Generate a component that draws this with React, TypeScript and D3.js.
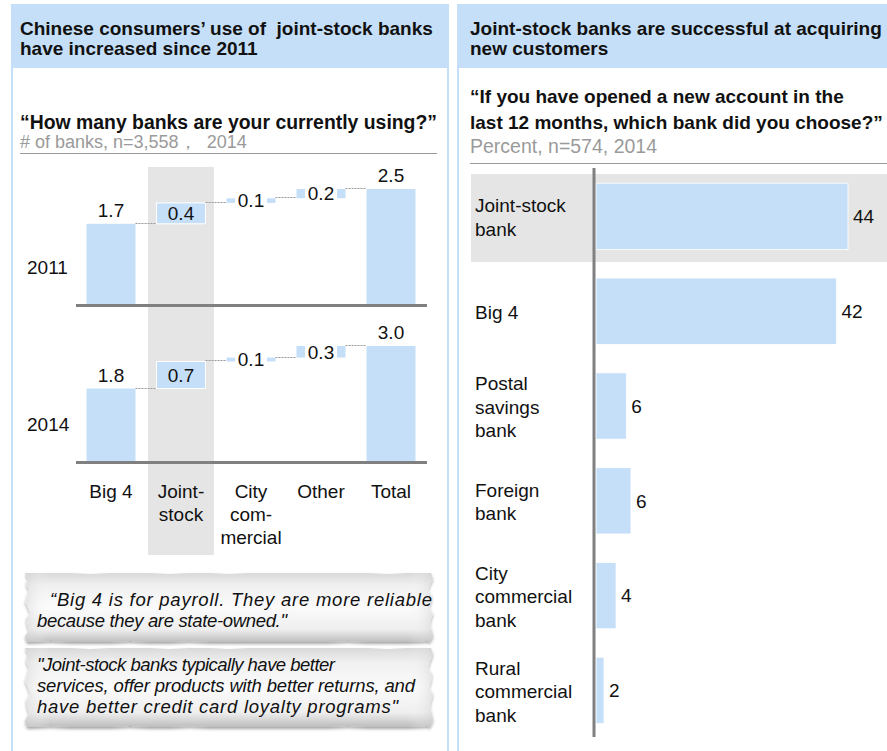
import React from 'react';
import * as d3 from 'd3';

// ---------- Data ----------
const wfCategories = ['Big 4', 'Joint-stock', 'City commercial', 'Other', 'Total'];
const wfCategoryLines = [['Big 4'], ['Joint-', 'stock'], ['City', 'com-', 'mercial'], ['Other'], ['Total']];
const years = ['2011', '2014'];
// step heights as drawn in the picture (Big 4, Joint-stock, City commercial, Other)
const steps2011 = [1.75, 0.45, 0.1, 0.2];
const steps2014 = [1.9, 0.7, 0.1, 0.3];
const totals = [2.5, 3.0];
const labels2011 = ['1.7', '0.4', '0.1', '0.2', '2.5'];
const labels2014 = ['1.8', '0.7', '0.1', '0.3', '3.0'];

const newAcctCategories = ['Joint-stock bank', 'Big 4', 'Postal savings bank', 'Foreign bank', 'City commercial bank', 'Rural commercial bank'];
const newAcctLines = [['Joint-stock', 'bank'], ['Big 4'], ['Postal', 'savings', 'bank'], ['Foreign', 'bank'], ['City', 'commercial', 'bank'], ['Rural', 'commercial', 'bank']];
const newAcctValues = [44, 42, 5.3, 6.1, 3.5, 1.4];
const newAcctLabels = ['44', '42', '6', '6', '4', '2'];

const quote1 = ['\u201CBig 4 is for payroll. They are more reliable', 'because they are state-owned."'];
const quote2 = ['"Joint-stock banks typically have better', 'services, offer products with better returns, and', 'have better credit card loyalty programs"'];

// decorative torn-edge offsets
const tear = [0, 3, 1, 4, 2, 0, 3, 5, 1, 2, 4, 0, 2, 3, 1];

const FONT = "'Liberation Sans', Arial, Helvetica, sans-serif";
const BLUE = '#c6dff8';
const GRAY_BG = '#e5e5e5';
const AXIS = '#808080';
const FS = 19;

function tornPath(x0: number, y0: number, x1: number, y1: number) {
  const n = 12;
  const pts: [number, number][] = [];
  for (let i = 0; i <= 20; i++) {
    const t = i / 20;
    pts.push([x0 + 6 + t * (x1 - x0 - 12), y0 + (tear[i % tear.length] > 3 ? 1 : 0)]);
  }
  for (let i = 0; i <= n; i++) {
    const t = i / n;
    pts.push([x1 - tear[(i + 4) % tear.length], y0 + t * (y1 - y0)]);
  }
  for (let i = 20; i >= 0; i--) {
    const t = i / 20;
    pts.push([x0 + 6 + t * (x1 - x0 - 12), y1 - (tear[(i + 2) % tear.length] > 3 ? 1 : 0)]);
  }
  for (let i = n; i >= 0; i--) {
    const t = i / n;
    pts.push([x0 + tear[i % tear.length], y0 + t * (y1 - y0)]);
  }
  return d3.line()(pts) + 'Z';
}

function Waterfall() {
  const x = d3.scaleBand<string>().domain(wfCategories).range([76, 426]).paddingInner(0.3).paddingOuter(0.15);
  const bw = x.bandwidth();
  const bases = [305, 462];
  const panelH = 116;
  const stepsAll = [steps2011, steps2014];
  const labelsAll = [labels2011, labels2014];
  const jx = (x('Joint-stock') as number) + bw / 2;

  return (
    <g>
      <rect x={jx - 33} y={167} width={66} height={388} fill={GRAY_BG} />
      {years.map((yr, p) => {
        const base = bases[p];
        const y = d3.scaleLinear().domain([0, totals[p]]).range([base, base - panelH]);
        const steps = stepsAll[p];
        const labels = labelsAll[p];
        const cum: number[] = [0];
        steps.forEach((s, i) => cum.push(cum[i] + s));
        const items = wfCategories.map((c, i) => {
          if (i === 4) return { c, lo: 0, hi: totals[p] };
          return { c, lo: i === 0 ? 0 : cum[i], hi: cum[i + 1] };
        });
        return (
          <g key={yr}>
            <text x={27} y={base - 31} fontSize={FS} fontFamily={FONT} fill="#111">{yr}</text>
            {items.map((it, i) => {
              const bx = x(it.c) as number;
              const top = y(it.hi);
              const h = y(it.lo) - y(it.hi);
              const cx = bx + bw / 2;
              if (i === 0 || i === 4) {
                return (
                  <g key={it.c}>
                    <rect x={bx} y={top} width={bw} height={h} fill={BLUE} />
                    <text x={cx} y={top - 7} textAnchor="middle" fontSize={FS} fontFamily={FONT} fill="#111">{labels[i]}</text>
                  </g>
                );
              }
              if (i === 1) {
                return (
                  <g key={it.c}>
                    <rect x={bx} y={top} width={bw} height={h} fill={BLUE} stroke="#fff" strokeWidth={1} />
                    <text x={cx} y={top + h / 2} dy="0.36em" textAnchor="middle" fontSize={FS} fontFamily={FONT} fill="#111">{labels[i]}</text>
                  </g>
                );
              }
              return (
                <g key={it.c}>
                  <rect x={bx} y={top} width={bw} height={h} fill={BLUE} />
                  <rect x={cx - 16} y={top - 1} width={32} height={h + 2} fill="#fff" />
                  <text x={cx} y={top + h / 2} dy="0.36em" textAnchor="middle" fontSize={FS} fontFamily={FONT} fill="#111">{labels[i]}</text>
                </g>
              );
            })}
            {items.slice(0, 4).map((it, i) => {
              const x1 = (x(it.c) as number) + bw;
              const x2 = x(wfCategories[i + 1]) as number;
              const yy = Math.round(y(it.hi)) - 0.5;
              return <line key={'c' + i} x1={x1} x2={x2} y1={yy} y2={yy} stroke="#999" strokeWidth={1} strokeDasharray="2,1" />;
            })}
            <line x1={76} x2={427} y1={base + 0.5} y2={base + 0.5} stroke={AXIS} strokeWidth={3} />
          </g>
        );
      })}
      {wfCategoryLines.map((lines, i) => {
        const cx = (x(wfCategories[i]) as number) + bw / 2;
        return (
          <text key={i} textAnchor="middle" fontSize={FS} fontFamily={FONT} fill="#111">
            {lines.map((l, k) => (
              <tspan key={k} x={cx} y={498 + k * 23}>{l}</tspan>
            ))}
          </text>
        );
      })}
    </g>
  );
}

function HBars() {
  const xs = d3.scaleLinear().domain([0, 44]).range([596, 848]);
  const ys = d3.scaleBand<string>().domain(newAcctCategories).range([169, 737.8]).paddingInner(0.3).paddingOuter(0.15);
  const bh = ys.bandwidth();
  return (
    <g>
      <rect x={471} y={174} width={420} height={88} fill={GRAY_BG} />
      {newAcctCategories.map((c, i) => {
        const by = ys(c) as number;
        const cy = by + bh / 2;
        const lines = newAcctLines[i];
        const startY = cy + 1 - ((lines.length - 1) * 23.5) / 2;
        return (
          <g key={c}>
            <rect x={xs(0)} y={by} width={xs(newAcctValues[i]) - xs(0)} height={bh} fill={BLUE} stroke="#fff" strokeWidth={0.8} />
            <text x={xs(newAcctValues[i]) + 5} y={cy} dy="0.36em" fontSize={FS} fontFamily={FONT} fill="#111">{newAcctLabels[i]}</text>
            <text fontSize={FS} fontFamily={FONT} fill="#111">
              {lines.map((l, k) => (
                <tspan key={k} x={475} y={startY + k * 23.5} dy="0.36em">{l}</tspan>
              ))}
            </text>
          </g>
        );
      })}
      <line x1={594} x2={594} y1={168} y2={737} stroke={AXIS} strokeWidth={3} />
    </g>
  );
}

function Quote({ y0, y1, lines, firstY, xs, widths }: { y0: number; y1: number; lines: string[]; firstY: number; xs: number[]; widths: number[] }) {
  const d = tornPath(25, y0, 433, y1);
  return (
    <g>
      <path d={d} fill="url(#paperGrad)" filter="url(#paperShadow)" />
      <path d={d} fill="url(#paperSide)" opacity={0.5} />
      {lines.map((l, k) => (
        <text key={k} x={xs[k]} y={firstY + k * 21} fontSize={18.5} fontStyle="italic" fontFamily={FONT} fill="#111"
          textLength={widths[k]} lengthAdjust="spacing">{l}</text>
      ))}
    </g>
  );
}

export default function App() {
  return (
    <svg width={887} height={751} style={{ position: 'absolute', left: 0, top: 0, background: '#fff' }}>
      <defs>
        <linearGradient id="paperGrad" x1="0" y1="0" x2="0" y2="1">
          <stop offset="0" stopColor="#d9d9d9" />
          <stop offset="0.18" stopColor="#f0f0f0" />
          <stop offset="0.5" stopColor="#fbfbfb" />
          <stop offset="0.82" stopColor="#eeeeee" />
          <stop offset="1" stopColor="#bdbdbd" />
        </linearGradient>
        <linearGradient id="paperSide" x1="0" y1="0" x2="1" y2="0">
          <stop offset="0" stopColor="#cfcfcf" />
          <stop offset="0.06" stopColor="#ffffff" stopOpacity="0" />
          <stop offset="0.94" stopColor="#ffffff" stopOpacity="0" />
          <stop offset="1" stopColor="#cfcfcf" />
        </linearGradient>
        <filter id="paperShadow" x="-5%" y="-10%" width="110%" height="130%">
          <feDropShadow dx="0" dy="2" stdDeviation="1.5" floodColor="#000" floodOpacity="0.35" />
        </filter>
      </defs>

      {/* panel frames */}
      <rect x={11} y={4} width={438} height={64} fill={BLUE} />
      <rect x={457} y={4} width={440} height={64} fill={BLUE} />
      <line x1={12} x2={12} y1={4} y2={751} stroke={BLUE} strokeWidth={2} />
      <line x1={448} x2={448} y1={4} y2={751} stroke={BLUE} strokeWidth={2} />
      <line x1={458} x2={458} y1={4} y2={751} stroke={BLUE} strokeWidth={2} />

      {/* left headings */}
      <text fontSize={19} fontWeight="bold" fontFamily={FONT} fill="#111" style={{ whiteSpace: 'pre' }}>
        <tspan x={20} y={35}>Chinese consumers’ use of  joint-stock banks</tspan>
        <tspan x={20} y={55}>have increased since 2011</tspan>
      </text>
      <text x={20} y={129} fontSize={19.4} fontWeight="bold" fontFamily={FONT} fill="#111">“How many banks are your currently using?”</text>
      <text x={20} y={148} fontSize={18} fontFamily={FONT} fill="#9a9a9a" style={{ whiteSpace: 'pre' }}>{'# of banks, n=3,558\uFF0C  2014'}</text>
      <line x1={20} x2={437} y1={153.5} y2={153.5} stroke="#999" strokeWidth={1} />

      {/* right headings */}
      <text fontSize={19} fontWeight="bold" fontFamily={FONT} fill="#111">
        <tspan x={470} y={35}>Joint-stock banks are successful at acquiring</tspan>
        <tspan x={470} y={55}>new customers</tspan>
      </text>
      <text fontSize={19} fontWeight="bold" fontFamily={FONT} fill="#111">
        <tspan x={470} y={103}>“If you have opened a new account in the</tspan>
        <tspan x={470} y={129}>last 12 months, which bank did you choose?”</tspan>
      </text>
      <text x={470} y={153} fontSize={19.5} fontFamily={FONT} fill="#9a9a9a">Percent, n=574, 2014</text>
      <line x1={470} x2={887} y1={163.5} y2={163.5} stroke="#999" strokeWidth={1} />

      <Waterfall />
      <HBars />

      <Quote y0={573} y1={642} lines={quote1} firstY={606} xs={[50, 37]} widths={[382, 250]} />
      <Quote y0={648} y1={727} lines={quote2} firstY={671} xs={[37, 37, 37]} widths={[298, 378, 361]} />
    </svg>
  );
}
